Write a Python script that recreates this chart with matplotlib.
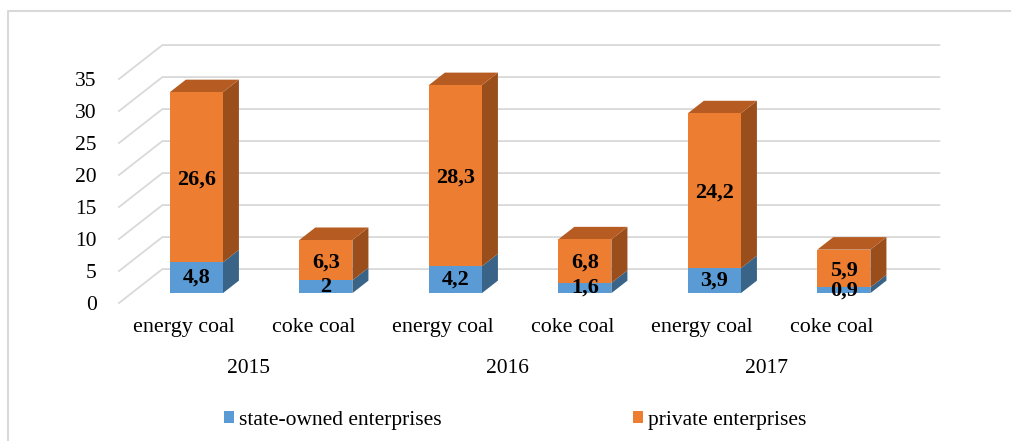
import matplotlib.pyplot as plt
from matplotlib.patches import Polygon
from matplotlib.lines import Line2D

# data
categories = ['energy coal', 'coke coal', 'energy coal', 'coke coal', 'energy coal', 'coke coal']
years = ['2015', '2016', '2017']
state_owned = [4.8, 2.0, 4.2, 1.6, 3.9, 0.9]
private = [26.6, 6.3, 28.3, 6.8, 24.2, 5.9]
yticks = [0, 5, 10, 15, 20, 25, 30, 35]

plt.rcParams['font.family'] = ['Liberation Serif', 'DejaVu Serif']

W, H = 1011, 441
fig = plt.figure(figsize=(W / 100, H / 100), dpi=100)
# front plane of the pseudo-3d box in pixels
left_px, right_px, zero_px, top_px = 119, 896, 303, 79
ax = fig.add_axes([left_px / W, 1 - zero_px / H, (right_px - left_px) / W, (zero_px - top_px) / H])
ax.set_xlim(-0.5, 5.5)
ax.set_ylim(0, 35)

# depth of the box (data units)
DX, DY = 0.335, 5.3
f0, f1 = 0.29, 0.66          # front and back of the bars as fraction of depth
bw = 0.41
grid_c = '#D9D9D9'

# side wall and back wall grid lines
for v in yticks:
    ax.plot([-0.5, -0.5 + DX, 5.5 + DX], [v, v + DY, v + DY], color=grid_c, lw=1.3,
            clip_on=False, zorder=0)

face = {'s': ('#5B9BD5', '#4878A6', '#3A6487'), 'p': ('#ED7D31', '#B65C22', '#9A4E1C')}

x = list(range(len(categories)))
ox, oy = DX * f0, DY * f0
ddx, ddy = DX * (f1 - f0), DY * (f1 - f0)

def draw_segment(xi, base, val, cols, top):
    x0 = xi - bw / 2 + ox
    x1 = xi + bw / 2 + ox
    y0 = base + oy
    y1 = base + val + oy
    ax.add_patch(Polygon([(x1, y0), (x1 + ddx, y0 + ddy), (x1 + ddx, y1 + ddy), (x1, y1)],
                         closed=True, fc=cols[2], ec='none', clip_on=False, zorder=2))
    if top:
        ax.add_patch(Polygon([(x0, y1), (x0 + ddx, y1 + ddy), (x1 + ddx, y1 + ddy), (x1, y1)],
                             closed=True, fc=cols[1], ec='none', clip_on=False, zorder=2))

ax.bar([xi + ox for xi in x], state_owned, bottom=oy, width=bw, color=face['s'][0],
       zorder=3, clip_on=False, label='state-owned enterprises')
ax.bar([xi + ox for xi in x], private, bottom=[s + oy for s in state_owned], width=bw,
       color=face['p'][0], zorder=3, clip_on=False, label='private enterprises')
for xi, s, p in zip(x, state_owned, private):
    draw_segment(xi, 0, s, face['s'], False)
    draw_segment(xi, s, p, face['p'], True)

def fmt(v):
    return f'{v:g}'.replace('.', ',')

for xi, s, p in zip(x, state_owned, private):
    ax.text(xi + ox, oy + s / 2, fmt(s), ha='center', va='center', fontsize=16,
            fontweight='bold', zorder=5, clip_on=False)
    ax.text(xi + ox, oy + s + p / 2 - 0.3, fmt(p), ha='center', va='center', fontsize=16,
            fontweight='bold', zorder=5, clip_on=False)

for sp in ax.spines.values():
    sp.set_visible(False)
ax.set_yticks(yticks)
ax.set_yticklabels([str(v) for v in yticks], fontsize=15.5)
ax.set_xticks(x)
ax.set_xticklabels(categories, fontsize=15.8)
ax.tick_params(axis='y', length=0, pad=16)
ax.tick_params(axis='x', length=0, pad=11)
ax.patch.set_visible(False)

for i, yr in enumerate(years):
    ax.text(2 * i + 0.5, -10.3, yr, ha='center', va='center', fontsize=15.5, clip_on=False)

fig.legend(loc='center', bbox_to_anchor=(515 / W, 1 - 420 / H), ncol=2, frameon=False,
           fontsize=15.5, handlelength=0.47, handleheight=0.47, handletextpad=0.23,
           columnspacing=8.9, borderpad=0, borderaxespad=0)

# chart frame (left and top edges visible)
fig.add_artist(Line2D([8 / W, 8 / W, 1.0], [0, 1 - 11 / H, 1 - 11 / H], color='#D9D9D9',
                      lw=1.5, transform=fig.transFigure))

fig.savefig('out.png', dpi=100)
